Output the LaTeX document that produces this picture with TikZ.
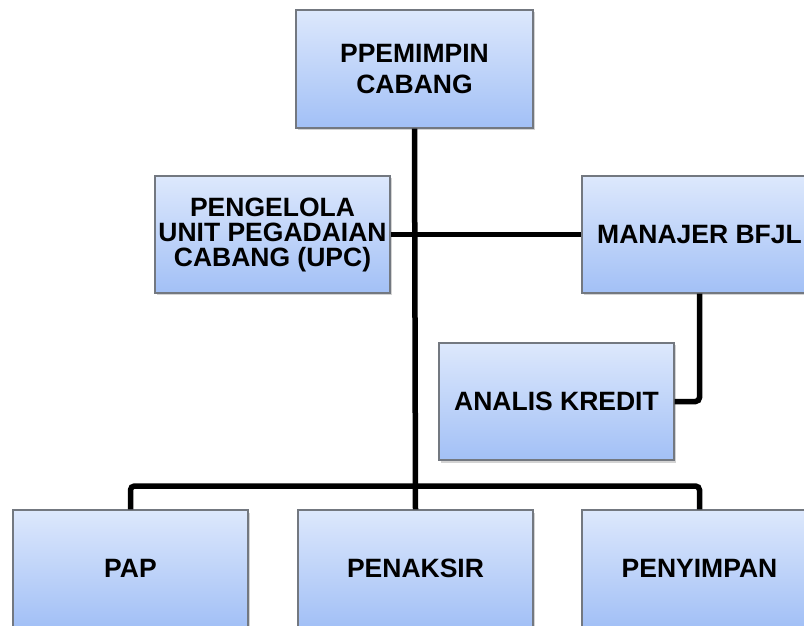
\documentclass[tikz,border=0pt]{standalone}
\usepackage{fontspec}
\setmainfont{Liberation Sans}
\usetikzlibrary{shadows}
\definecolor{boxtop}{HTML}{DDE8FC}
\definecolor{boxbot}{HTML}{A2C0F6}
\definecolor{boxline}{HTML}{737880}
\tikzset{
  orgbox/.style={draw=boxline, line width=1.2pt, top color=boxtop, bottom color=boxbot,
    minimum width=235pt, minimum height=117pt, inner sep=0pt, align=center,
    font=\bfseries\fontsize{26.5}{25}\selectfont,
    drop shadow={opacity=0.35, shadow xshift=1.5pt, shadow yshift=-2.5pt}},
  link/.style={line width=5.5pt, draw=black, rounded corners=4pt}
}
\begin{document}
\begin{tikzpicture}[x=1pt,y=1pt]
\useasboundingbox (0,0) rectangle (804,625);
\begin{scope}
\clip (0,0) rectangle (804,625);
\node[orgbox, minimum width=237pt, minimum height=118pt, font=\bfseries\fontsize{26.5}{30.5}\selectfont] (top) at (414.5,556) {PPEMIMPIN\\CABANG};
\node[orgbox] (upc) at (272.5,390.5) {PENGELOLA\\UNIT PEGADAIAN\\CABANG (UPC)};
\node[orgbox] (man) at (699.5,390.5) {MANAJER BFJL};
\node[orgbox] (analis) at (556.5,223.5) {ANALIS KREDIT};
\node[orgbox] (pap) at (130.5,56.5) {PAP};
\node[orgbox] (penaksir) at (415.5,56.5) {PENAKSIR};
\node[orgbox] (peny) at (699.5,56.5) {PENYIMPAN};
\coordinate (bus) at (415,139);
\draw[link] (top.south) -- (penaksir.north);
\draw[link] (upc.east) -- (man.west);
\draw[link] (pap.north) |- (bus) -| (peny.north);
\draw[link] (man.south) |- (analis.east);
\end{scope}
\end{tikzpicture}
\end{document}
